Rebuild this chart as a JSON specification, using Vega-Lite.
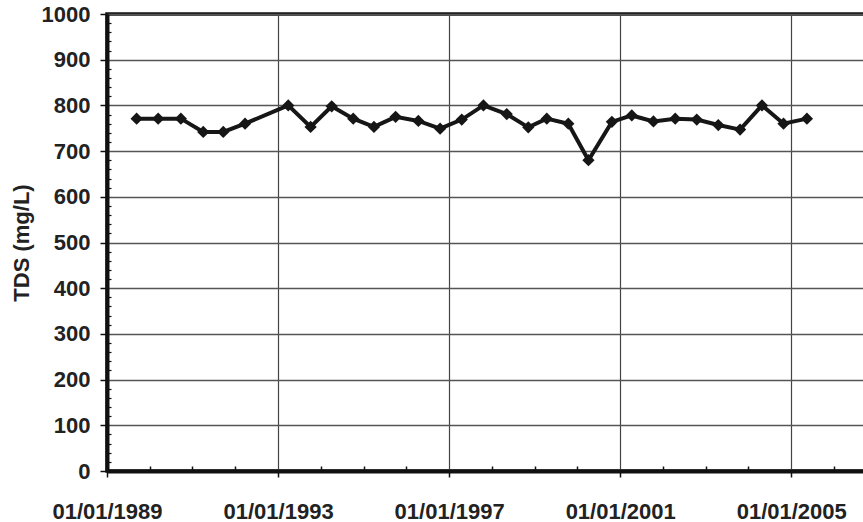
{
  "$schema": "https://vega.github.io/schema/vega-lite/v6.json",
  "width": 760,
  "height": 457,
  "autosize": {"type": "none"},
  "padding": {"left": 107, "top": 14, "right": 0, "bottom": 51},
  "background": "white",
  "config": {
    "view": {"stroke": "#111", "strokeWidth": 3.5},
    "font": "Liberation Sans",
    "axis": {
      "labelFont": "Liberation Sans",
      "titleFont": "Liberation Sans",
      "labelFontSize": 22,
      "labelFontWeight": "bold",
      "labelColor": "#222",
      "titleFontSize": 22,
      "titleFontWeight": "bold",
      "titleColor": "#222"
    }
  },
  "data": {
    "values": [
      {"date": "1989-09-11", "tds": 771},
      {"date": "1990-03-14", "tds": 771},
      {"date": "1990-09-24", "tds": 771},
      {"date": "1991-04-03", "tds": 742},
      {"date": "1991-09-21", "tds": 742},
      {"date": "1992-03-25", "tds": 760},
      {"date": "1993-03-29", "tds": 800},
      {"date": "1993-10-06", "tds": 753},
      {"date": "1994-04-04", "tds": 798},
      {"date": "1994-10-05", "tds": 771},
      {"date": "1995-03-31", "tds": 753},
      {"date": "1995-10-02", "tds": 775},
      {"date": "1996-04-13", "tds": 766},
      {"date": "1996-10-16", "tds": 749},
      {"date": "1997-04-19", "tds": 769},
      {"date": "1997-10-21", "tds": 800},
      {"date": "1998-05-08", "tds": 781},
      {"date": "1998-11-08", "tds": 752},
      {"date": "1999-04-15", "tds": 771},
      {"date": "1999-10-16", "tds": 760},
      {"date": "2000-04-05", "tds": 680},
      {"date": "2000-10-22", "tds": 764},
      {"date": "2001-04-10", "tds": 778},
      {"date": "2001-10-12", "tds": 765},
      {"date": "2002-04-16", "tds": 771},
      {"date": "2002-10-17", "tds": 769},
      {"date": "2003-04-19", "tds": 757},
      {"date": "2003-10-22", "tds": 747},
      {"date": "2004-04-26", "tds": 800},
      {"date": "2004-10-27", "tds": 760},
      {"date": "2005-05-15", "tds": 771}
    ]
  },
  "layer": [
    {
      "mark": {"type": "line", "color": "#161616", "strokeWidth": 4},
      "encoding": {
        "x": {
          "field": "date",
          "type": "temporal",
          "scale": {
            "type": "utc",
            "domain": [
              {"year": 1989, "month": 1, "date": 1, "utc": true},
              {"year": 2006, "month": 10, "date": 10, "utc": true}
            ]
          },
          "axis": {
            "orient": "bottom",
            "values": [
              {"year": 1989, "month": 1, "date": 1, "utc": true},
              {"year": 1993, "month": 1, "date": 1, "utc": true},
              {"year": 1997, "month": 1, "date": 1, "utc": true},
              {"year": 2001, "month": 1, "date": 1, "utc": true},
              {"year": 2005, "month": 1, "date": 1, "utc": true}
            ],
            "format": "%m/%d/%Y",
            "title": null,
            "domainColor": "#111",
            "domainWidth": 4,
            "tickColor": "#111",
            "tickWidth": 1.5,
            "tickSize": 6,
            "labelPadding": 24,
            "labelFlush": false,
            "labelOverlap": false,
            "grid": true,
            "gridColor": "#444",
            "gridWidth": 1.2
          }
        },
        "y": {
          "field": "tds",
          "type": "quantitative",
          "scale": {"domain": [0, 1000], "nice": false, "zero": true},
          "axis": {
            "orient": "left",
            "values": [0, 100, 200, 300, 400, 500, 600, 700, 800, 900, 1000],
            "format": "d",
            "title": "TDS (mg/L)",
            "titlePadding": 8,
            "domainColor": "#111",
            "domainWidth": 4,
            "tickColor": "#111",
            "tickWidth": 1.5,
            "tickSize": 7,
            "labelPadding": 10,
            "labelFlush": false,
            "labelOverlap": false,
            "grid": true,
            "gridColor": "#555",
            "gridWidth": 1.5
          }
        }
      }
    },
    {
      "mark": {"type": "point", "shape": "diamond", "filled": true, "size": 150, "color": "#161616", "opacity": 1},
      "encoding": {
        "x": {"field": "date", "type": "temporal", "axis": null},
        "y": {"field": "tds", "type": "quantitative", "axis": null}
      }
    },
    {
      "mark": {"type": "point", "opacity": 0},
      "encoding": {
        "x": {
          "field": "date",
          "type": "temporal",
          "axis": {
            "orient": "bottom",
            "values": [
              {"year": 1990, "month": 1, "date": 1, "utc": true},
              {"year": 1991, "month": 1, "date": 1, "utc": true},
              {"year": 1992, "month": 1, "date": 1, "utc": true},
              {"year": 1994, "month": 1, "date": 1, "utc": true},
              {"year": 1995, "month": 1, "date": 1, "utc": true},
              {"year": 1996, "month": 1, "date": 1, "utc": true},
              {"year": 1998, "month": 1, "date": 1, "utc": true},
              {"year": 1999, "month": 1, "date": 1, "utc": true},
              {"year": 2000, "month": 1, "date": 1, "utc": true},
              {"year": 2002, "month": 1, "date": 1, "utc": true},
              {"year": 2003, "month": 1, "date": 1, "utc": true},
              {"year": 2004, "month": 1, "date": 1, "utc": true},
              {"year": 2006, "month": 1, "date": 1, "utc": true}
            ],
            "title": null,
            "labels": false,
            "domain": false,
            "grid": false,
            "tickColor": "#111",
            "tickWidth": 1.5,
            "tickSize": -5
          }
        },
        "y": {
          "field": "tds",
          "type": "quantitative",
          "axis": {
            "orient": "left",
            "values": [20, 40, 60, 80, 120, 140, 160, 180, 220, 240, 260, 280, 320, 340, 360, 380, 420, 440, 460, 480, 520, 540, 560, 580, 620, 640, 660, 680, 720, 740, 760, 780, 820, 840, 860, 880, 920, 940, 960, 980],
            "title": null,
            "labels": false,
            "domain": false,
            "grid": false,
            "tickColor": "#111",
            "tickWidth": 1.2,
            "tickSize": -4
          }
        }
      }
    }
  ],
  "resolve": {"axis": {"x": "independent", "y": "independent"}}
}
